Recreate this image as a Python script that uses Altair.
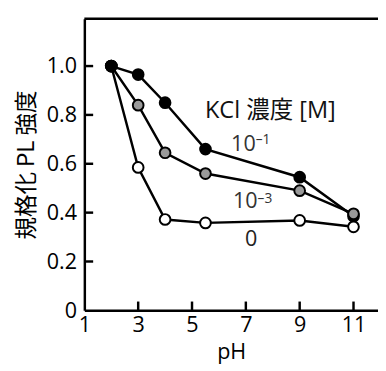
import altair as alt
import pandas as pd

# ---- data ----
ph = [2, 3, 4, 5.5, 9, 11]
kcl_1e1 = [1.0, 0.965, 0.85, 0.66, 0.545, 0.385]   # 10^-1 M (black)
kcl_1e3 = [1.0, 0.84, 0.645, 0.56, 0.49, 0.395]    # 10^-3 M (gray)
kcl_0 = [1.0, 0.585, 0.372, 0.358, 0.368, 0.342]   # 0 M (white)

series_names = ["1e-1", "1e-3", "0"]
series_fill = ["#000000", "#9a9a9a", "#ffffff"]

x_ticks = [1, 3, 5, 7, 9, 11]
y_ticks = [0, 0.2, 0.4, 0.6, 0.8, 1.0]

W, H = 300, 298
FONT = "Open Sans, Noto Sans CJK JP"
CJK = "Noto Sans CJK JP"

rows = []
for name, vals in zip(series_names, [kcl_1e1, kcl_1e3, kcl_0]):
    for p, v in zip(ph, vals):
        rows.append({"series": name, "ph": p, "v": v})
df = pd.DataFrame(rows)

xs = alt.Scale(domain=[1, 11.91], nice=False, zero=False)
ys = alt.Scale(domain=[0, 1.194], nice=False)

x_axis = alt.Axis(values=x_ticks, format="d", title="pH", ticks=False, grid=False,
                  labelFlush=False, labelPadding=5, titlePadding=6,
                  labelFontSize=22, titleFontSize=22, labelFont=FONT, titleFont=FONT,
                  titleFontWeight="normal", domainWidth=2.5, domainColor="black",
                  labelColor="black", titleColor="black")
y_axis = alt.Axis(values=y_ticks, title="規格化 PL 強度", ticks=False, grid=False,
                  labelExpr="datum.value == 0 ? '0' : format(datum.value, '.1f')",
                  labelPadding=8, titlePadding=8,
                  labelFontSize=22, titleFontSize=23, labelFont=FONT, titleFont=CJK,
                  titleFontWeight="normal", domainWidth=2.5, domainColor="black",
                  labelColor="black", titleColor="black")

base = alt.Chart(df)

lines = base.mark_line(color="black", strokeWidth=2.5).encode(
    x=alt.X("ph:Q", scale=xs, axis=x_axis),
    y=alt.Y("v:Q", scale=ys, axis=y_axis),
    detail="series:N",
)

points = base.transform_calculate(
    z="datum.series == '1e-1' ? (datum.ph == 2 ? 4 : 1) : (datum.series == '1e-3' ? 2 : 3)"
).mark_circle(size=120, opacity=1, stroke="black", strokeWidth=2).encode(
    x=alt.X("ph:Q", scale=xs),
    y=alt.Y("v:Q", scale=ys),
    fill=alt.Fill("series:N", scale=alt.Scale(domain=series_names, range=series_fill), legend=None),
    order=alt.Order("z:Q"),
)

xt = alt.Chart(pd.DataFrame({"t": x_ticks[1:]})).mark_rule(color="black", strokeWidth=2.5).encode(
    x=alt.X("t:Q", scale=xs), y=alt.value(H), y2=alt.value(H - 9))
yt = alt.Chart(pd.DataFrame({"t": y_ticks[1:]})).mark_rule(color="black", strokeWidth=2.5).encode(
    y=alt.Y("t:Q", scale=ys), x=alt.value(0), x2=alt.value(9))
top = alt.Chart(pd.DataFrame({"a": [0]})).mark_rule(color="black", strokeWidth=2.5).encode(
    x=alt.value(0), x2=alt.value(W), y=alt.value(0))

ann = pd.DataFrame({
    "txt": ["KCl 濃度 [M]", "10", "10", "0"],
    "px": [190, 162.5, 164.5, 170.5],
    "py": [101, 135, 193, 232],
    "fs": [24, 22, 22, 22],
    "col": ["#111111", "#333333", "#333333", "#222222"],
})
labels = alt.Chart(ann).mark_text(align="center", baseline="alphabetic", font=FONT).encode(
    x=alt.X("px:Q", scale=None), y=alt.Y("py:Q", scale=None), text="txt:N",
    size=alt.Size("fs:Q", scale=None), color=alt.Color("col:N", scale=None))

sup = pd.DataFrame({"txt": ["–1", "–3"], "px": [175, 177], "py": [128, 188]})
sups = alt.Chart(sup).mark_text(align="left", baseline="alphabetic", font=FONT, fontSize=14,
                                color="#333333").encode(
    x=alt.X("px:Q", scale=None), y=alt.Y("py:Q", scale=None), text="txt:N")

chart = alt.layer(lines, points, xt, yt, top, labels, sups).properties(
    width=W, height=H,
    padding={"left": 78, "top": 7, "right": 0, "bottom": 55},
    autosize=alt.AutoSizeParams(type="none"),
).configure_view(stroke=None)

chart.save("out.html", embed_options={"renderer": "svg", "actions": False})
